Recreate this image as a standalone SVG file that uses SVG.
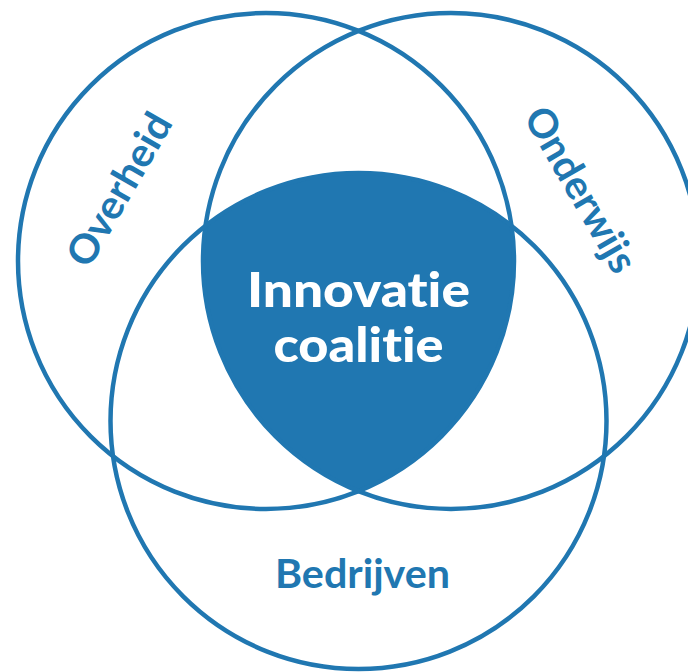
<svg xmlns="http://www.w3.org/2000/svg" width="688" height="672" viewBox="0 0 688 672">
<style>
.ring{fill:none;stroke:#2077b1;stroke-width:4.5}
.lbl{fill:#2077b1;font-family:Lato,"Liberation Sans",sans-serif;font-weight:700;font-size:40px;text-anchor:middle;font-variant-ligatures:none}
.core{fill:#ffffff;font-family:Lato,"Liberation Sans",sans-serif;font-weight:900;font-size:47px;text-anchor:middle;font-variant-ligatures:none}
</style>
<rect width="688" height="672" fill="#ffffff"/>
<g id="innovatie-coalitie">
<path d="M205.5 225.8 A248 248 0 0 1 511.5 225.8 A248 248 0 0 1 358.5 491.1 A248 248 0 0 1 205.5 225.8 Z" fill="#2077b1"/>
<text class="core" x="358.5" y="307" textLength="223" lengthAdjust="spacingAndGlyphs">Innovatie</text>
<text class="core" x="358.5" y="362" textLength="170" lengthAdjust="spacingAndGlyphs">coalitie</text>
</g>
<g id="overheid">
<circle class="ring" cx="266" cy="261" r="248"/>
<text class="lbl" transform="translate(120,190) rotate(-60)" y="13" textLength="170" lengthAdjust="spacingAndGlyphs">Overheid</text>
</g>
<g id="onderwijs">
<circle class="ring" cx="451" cy="261" r="248"/>
<text class="lbl" transform="translate(580,190) rotate(60)" y="13" textLength="184" lengthAdjust="spacingAndGlyphs">Onderwijs</text>
</g>
<g id="bedrijven">
<circle class="ring" cx="358.5" cy="421" r="248"/>
<text class="lbl" x="362.5" y="588" textLength="175" lengthAdjust="spacingAndGlyphs">Bedrijven</text>
</g>
<g id="connectors"/>
</svg>
